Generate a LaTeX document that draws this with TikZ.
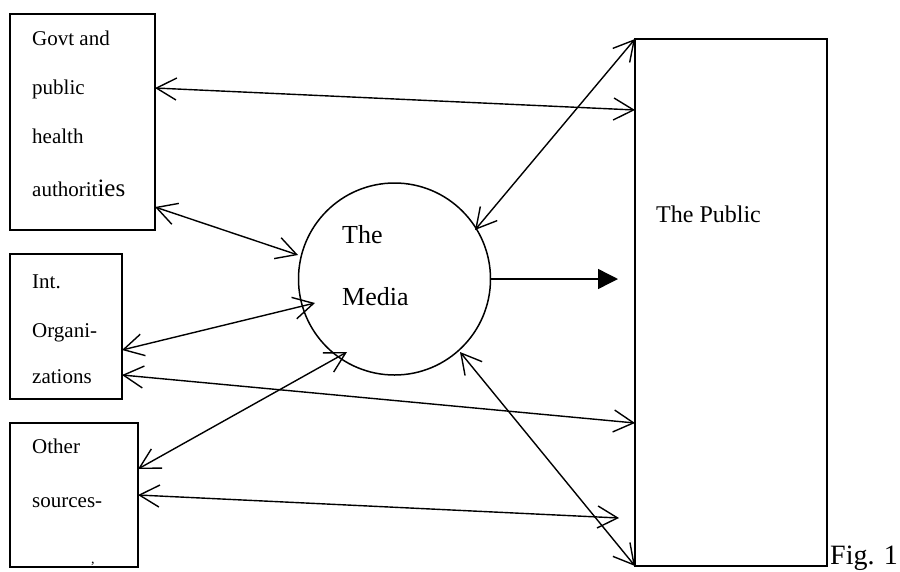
\documentclass[tikz,border=0pt]{standalone}
\usepackage{fontspec}
\setmainfont{Liberation Serif}
\usetikzlibrary{arrows.meta,calc}
\begin{document}
\begin{tikzpicture}[x=1pt,y=-1pt,
  box/.style={draw,line width=1.8pt,inner sep=0pt,outer sep=0pt},
  lbl/.style={anchor=base west,inner sep=0pt,font=\fontsize{21}{25}\selectfont},
  big/.style={anchor=base west,inner sep=0pt,font=\fontsize{26}{30}\selectfont},
  link/.style={line width=1.4pt,{Straight Barb[length=20pt,width=22pt,line width=1.4pt]}-{Straight Barb[length=20pt,width=22pt,line width=1.4pt]}},
  flow/.style={line width=1.4pt,-{Triangle[length=20pt,width=20pt]}}]
\useasboundingbox (0,0) rectangle (900,571);
% boxes
\node[box,minimum width=145pt,minimum height=216pt] (govt) at (82.5,122) {};
\node[box,minimum width=112pt,minimum height=145pt] (int) at (66,326.5) {};
\node[box,minimum width=128pt,minimum height=144pt] (other) at (74,495) {};
\node[box,minimum width=192pt,minimum height=527pt] (public) at (731,302.5) {};
\node[draw,circle,line width=1.5pt,minimum size=192pt,inner sep=0pt,outer sep=0pt] (media) at (394.5,279) {};
% texts
\node[lbl] (g1) at (32,45) {Govt and};
\node[lbl] (g2) at (32,94) {public};
\node[lbl] (g3) at (32,143) {health};
\node[lbl] (g4) at (32,196) {authorit{\fontsize{25}{30}\selectfont ies}};
\node[lbl] (i1) at (32,288) {Int.};
\node[lbl] (i2) at (32,337) {Organi-};
\node[lbl] (i3) at (32,383) {zations};
\node[lbl] (o1) at (32,453) {Other};
\node[lbl] (o2) at (32,507) {sources-};
\node[anchor=base west,inner sep=0pt,font=\fontsize{14}{16}\selectfont] (o3) at (91,563) {,};
\node[big] (m1) at (342,243) {The};
\node[big] (m2) at (342,305) {Media};
\node[anchor=base west,inner sep=0pt,font=\fontsize{24}{28}\selectfont] (p1) at (656,222) {The Public};
\node[anchor=base west,inner sep=0pt,font=\fontsize{28}{32}\selectfont] (fig) at (830,564) {Fig. 1};
% connectors
\draw[link] ($(govt.north east)+(0,74)$) -- ($(public.north west)+(0,71)$);
\draw[link] ($(govt.north east)+(0,193)$) -- ($(media.center)+(-96.5,-24)$);
\draw[link] ($(int.north east)+(0,96)$) -- ($(media.center)+(-79.5,24)$);
\draw[link] ($(int.north east)+(0,121)$) -- ($(public.north west)+(0,384)$);
\draw[link] ($(other.north east)+(0,46)$) -- ($(media.center)+(-47.5,73)$);
\draw[link] ($(other.north east)+(0,72)$) -- ($(public.north west)+(-16,479)$);
\draw[link] ($(media.center)+(80.5,-49)$) -- (public.north west);
\draw[link] ($(media.center)+(65.5,73)$) -- (public.south west);
\draw[flow] (media.east) -- ($(public.west)+(-17,-23.5)$);
\end{tikzpicture}
\end{document}
